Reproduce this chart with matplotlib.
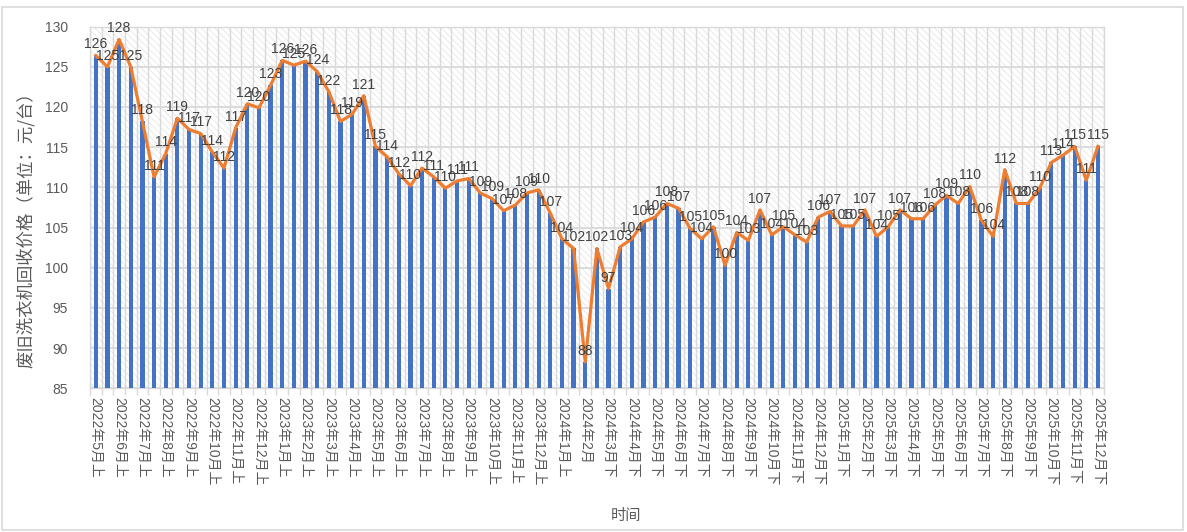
import matplotlib
matplotlib.use("Agg")
import matplotlib.pyplot as plt
from matplotlib.patches import Rectangle
from matplotlib.ticker import MultipleLocator, FixedLocator

plt.rcParams['font.family'] = ['Noto Sans CJK SC', 'DejaVu Sans']
plt.rcParams['hatch.linewidth'] = 0.6
num_font = ['Liberation Sans', 'Noto Sans CJK SC']

# categories: half-month periods, 2024年2月 is a single period
categories = (
    ["2022年%d月%s" % (m, h) for m in range(5, 13) for h in ("上", "下")]
    + ["2023年%d月%s" % (m, h) for m in range(1, 13) for h in ("上", "下")]
    + ["2024年1月上", "2024年1月下", "2024年2月"]
    + ["2024年%d月%s" % (m, h) for m in range(3, 13) for h in ("上", "下")]
    + ["2025年%d月%s" % (m, h) for m in range(1, 13) for h in ("上", "下")]
)

# price, yuan per unit
prices = [
    126.4, 125.0, 128.4, 125.0, 118.2, 111.3, 114.2, 118.6, 117.2, 116.7,
    114.4, 112.4, 117.4, 120.4, 119.9, 122.7, 125.8, 125.2, 125.7, 124.4,
    121.9, 118.2, 119.1, 121.4, 115.1, 113.8, 111.7, 110.2, 112.4, 111.3,
    109.9, 110.8, 111.1, 109.3, 108.6, 107.1, 107.8, 109.3, 109.7, 106.8,
    103.6, 102.4, 88.3, 102.4, 97.4, 102.6, 103.6, 105.7, 106.3, 108.0,
    107.4, 104.9, 103.6, 105.1, 100.3, 104.4, 103.4, 107.2, 104.1, 105.1,
    104.1, 103.2, 106.3, 107.0, 105.2, 105.2, 107.2, 103.9, 105.1, 107.2,
    106.1, 106.1, 107.8, 109.0, 108.0, 110.1, 105.9, 103.9, 112.2, 108.0,
    108.0, 109.9, 113.1, 114.0, 115.1, 110.9, 115.1,
]

bar_color = '#4472C4'
line_color = '#ED7D31'
grid_color = '#d9d9d9'

fig = plt.figure(figsize=(11.87, 5.32), dpi=100)
ax = fig.add_axes([0.0758, 0.270, 0.8541, 0.680])

x = list(range(len(categories)))

# hatched plot background
ax.add_patch(Rectangle((0, 0), 1, 1, transform=ax.transAxes, facecolor='white',
                       edgecolor='#e6e6e6', hatch='\\' * 5, linewidth=0, zorder=0))

ax.bar(x, [p - 85 for p in prices], bottom=85, width=0.36, color=bar_color, zorder=3)
ax.plot(x, prices, color=line_color, linewidth=2.3, zorder=4, solid_joinstyle='round')

for i, p in enumerate(prices):
    ax.annotate("%.0f" % p, (i, p), xytext=(0, 3), textcoords='offset points',
                ha='center', va='bottom', fontsize=10, color='#404040', zorder=5,
                family=num_font)

ax.set_xlim(-0.5, len(categories) - 0.5)
ax.set_ylim(85, 130)
ax.yaxis.set_major_locator(MultipleLocator(5))

ax.set_xticks(x[::2])
ax.set_xticklabels(categories[::2], rotation=-90, fontsize=10, color='#595959',
                   family=num_font)
ax.xaxis.set_minor_locator(FixedLocator([i + 0.5 for i in range(-1, len(categories))]))
ax.tick_params(axis='x', which='major', length=0, pad=6)
ax.tick_params(axis='x', which='minor', length=5, color=grid_color, width=1)
ax.tick_params(axis='y', length=0, pad=16, labelcolor='#595959')
for lab in ax.get_yticklabels():
    lab.set_family(num_font)
    lab.set_fontsize(10)

ax.grid(axis='y', color=grid_color, linewidth=1.3, zorder=1)
ax.grid(axis='x', which='minor', color=grid_color, linewidth=1.0, zorder=1)
ax.set_axisbelow(True)
for s in ax.spines.values():
    s.set_color(grid_color)
    s.set_linewidth(1.0)

ax.set_ylabel("废旧洗衣机回收价格（单位：元/台）", fontsize=12.5, color='#595959')
ax.yaxis.set_label_coords(-0.054, 0.45)
ax.set_xlabel("时间", fontsize=11, color='#595959')
ax.xaxis.set_label_coords(0.529, -0.328)

# light chart frame
fig.add_artist(Rectangle((0.002, 0.004), 0.995, 0.983, transform=fig.transFigure,
                         fill=False, edgecolor=grid_color, linewidth=1.2))

fig.savefig("out.png", dpi=100)
